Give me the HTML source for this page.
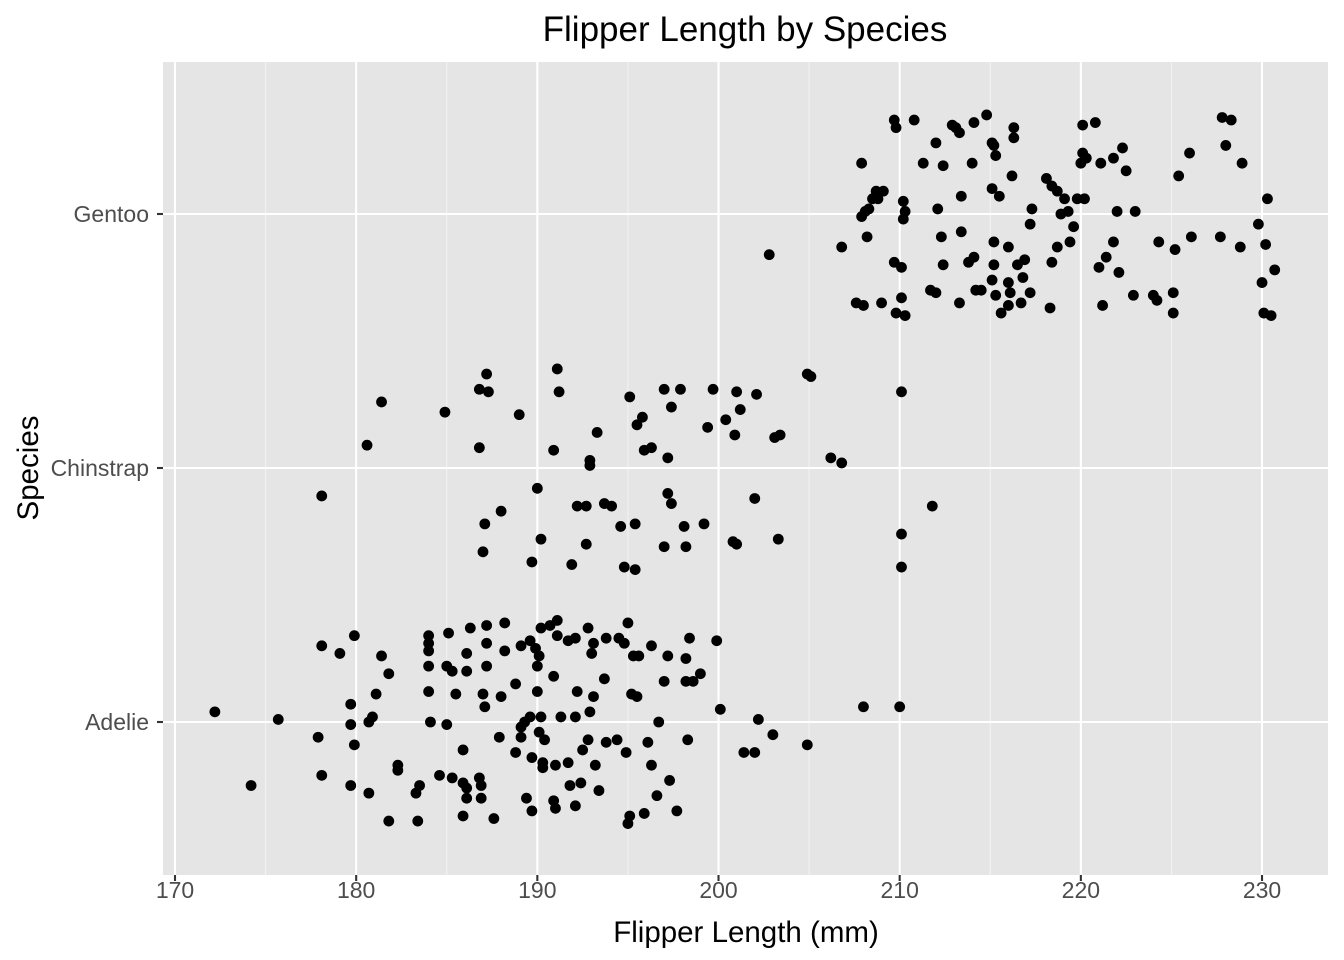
<!DOCTYPE html>
<html><head><meta charset="utf-8"><style>
body{margin:0;background:#fff;}
svg{display:block;font-family:"Liberation Sans",Arial,sans-serif;}
</style></head><body>
<svg id="chart" width="1344" height="960" viewBox="0 0 1344 960" xmlns="http://www.w3.org/2000/svg"></svg>
<script>
const categories = ["Adelie", "Chinstrap", "Gentoo"];
const xTicks = [170, 180, 190, 200, 210, 220, 230];
const gentooX = [209.7,210.8,209.8,212.9,213.1,214.1,214.8,215.1,215.2,215.3,216.3,216.3,220.1,220.8,227.8,228.3,212.0,213.3,220.1,220.3,220.0,221.1,221.8,222.3,222.5,226.0,228.0,228.9,225.4,207.9,211.3,214.0,212.4,216.2,218.1,218.4,218.7,219.1,219.8,220.2,219.3,218.9,208.7,209.1,208.8,208.5,208.3,208.1,207.9,210.2,210.3,210.2,213.4,215.1,215.5,212.1,217.3,222.0,223.0,230.3,229.8,226.1,227.7,228.8,230.2,208.2,206.8,213.4,212.3,215.2,217.2,219.6,219.4,218.7,221.8,224.3,225.2,202.8,216.0,216.5,209.7,210.1,212.4,213.8,214.1,215.2,216.9,218.4,221.4,221.0,222.1,230.0,230.7,214.2,215.1,216.8,216.0,210.1,211.7,212.0,213.3,214.5,215.3,216.1,217.2,222.9,224.0,224.2,225.1,207.6,208.0,209.0,209.8,210.3,215.6,216.0,216.7,218.3,221.2,225.1,230.1,230.5];
const gentooJitter = [0.37,0.37,0.34,0.35,0.34,0.36,0.39,0.28,0.27,0.23,0.34,0.30,0.35,0.36,0.38,0.37,0.28,0.32,0.24,0.22,0.20,0.20,0.22,0.26,0.17,0.24,0.27,0.20,0.15,0.20,0.20,0.20,0.19,0.15,0.14,0.11,0.09,0.06,0.06,0.06,0.01,0,0.09,0.09,0.06,0.06,0.02,0.01,-0.01,0.05,0.01,-0.02,0.07,0.10,0.07,0.02,0.02,0.01,0.01,0.06,-0.04,-0.09,-0.09,-0.13,-0.12,-0.09,-0.13,-0.07,-0.09,-0.11,-0.04,-0.05,-0.11,-0.13,-0.11,-0.11,-0.14,-0.16,-0.13,-0.20,-0.19,-0.21,-0.20,-0.19,-0.17,-0.20,-0.18,-0.19,-0.17,-0.21,-0.23,-0.27,-0.22,-0.30,-0.26,-0.25,-0.27,-0.33,-0.30,-0.31,-0.35,-0.30,-0.32,-0.31,-0.31,-0.32,-0.32,-0.34,-0.31,-0.35,-0.36,-0.35,-0.39,-0.40,-0.39,-0.36,-0.35,-0.37,-0.36,-0.39,-0.39,-0.40];
const chinstrapX = [191.1,187.2,186.8,187.3,191.2,197.0,197.9,199.7,201.0,202.1,204.9,205.1,210.1,181.4,184.9,189.0,195.1,195.8,197.4,200.4,201.2,199.4,200.9,203.1,203.4,193.3,195.5,180.6,186.8,190.9,192.9,192.9,196.3,195.9,197.2,206.2,206.8,178.1,190.0,192.2,192.7,193.7,194.1,197.2,197.4,202.0,211.8,188.0,187.1,194.6,195.4,198.1,199.2,190.2,192.7,200.8,201.0,203.3,210.1,187.0,189.7,191.9,194.8,195.4,197.0,198.2,210.1];
const chinstrapJitter = [0.39,0.37,0.31,0.30,0.30,0.31,0.31,0.31,0.30,0.29,0.37,0.36,0.30,0.26,0.22,0.21,0.28,0.20,0.24,0.19,0.23,0.16,0.13,0.12,0.13,0.14,0.17,0.09,0.08,0.07,0.03,0.01,0.08,0.07,0.04,0.04,0.02,-0.11,-0.08,-0.15,-0.15,-0.14,-0.15,-0.10,-0.14,-0.12,-0.15,-0.17,-0.22,-0.23,-0.22,-0.23,-0.22,-0.28,-0.30,-0.29,-0.30,-0.28,-0.26,-0.33,-0.37,-0.38,-0.39,-0.40,-0.31,-0.31,-0.39];
const adelieX = [191.1,190.7,190.2,192.8,195.0,188.2,187.2,186.3,185.1,184.0,184.0,179.9,178.1,179.1,181.4,181.8,184.0,184.0,185.0,186.1,187.2,187.2,186.1,185.3,188.2,189.1,189.9,190.1,190.0,191.1,189.6,192.1,191.7,193.0,193.1,193.8,194.5,194.8,195.6,195.3,196.3,197.2,198.2,198.4,199.9,199.0,198.6,198.2,197.0,193.7,192.2,195.2,195.5,193.1,190.9,190.0,188.8,188.0,187.0,187.1,185.5,184.0,181.1,179.7,172.2,175.7,179.7,180.7,180.9,184.1,185.0,189.1,189.3,189.6,190.2,191.3,192.1,192.9,196.7,200.1,202.2,208.0,210.0,187.9,189.1,190.1,190.4,192.8,193.8,194.4,196.1,198.3,177.9,179.9,185.9,188.8,189.7,190.3,190.3,191.0,192.5,191.7,194.9,196.3,193.2,201.4,202.0,203.0,204.9,182.3,182.3,184.6,185.3,185.9,186.8,186.9,186.9,186.1,186.1,183.5,183.3,180.7,179.7,178.1,174.2,189.4,191.8,192.4,193.4,190.9,191.0,189.7,192.1,195.1,195.0,195.9,196.6,197.3,197.7,187.6,185.9,183.4,181.8];
const adelieJitter = [0.40,0.38,0.37,0.37,0.39,0.39,0.38,0.37,0.35,0.34,0.31,0.34,0.30,0.27,0.26,0.19,0.28,0.22,0.22,0.27,0.31,0.22,0.20,0.20,0.28,0.30,0.29,0.26,0.22,0.34,0.32,0.33,0.32,0.27,0.31,0.33,0.33,0.31,0.26,0.26,0.30,0.26,0.25,0.33,0.32,0.19,0.16,0.16,0.16,0.17,0.12,0.11,0.10,0.10,0.18,0.12,0.15,0.10,0.11,0.06,0.11,0.12,0.11,0.07,0.04,0.01,-0.01,0,0.02,0,-0.01,-0.02,0,0.02,0.02,0.02,0.02,0.04,0,0.05,0.01,0.06,0.06,-0.06,-0.06,-0.04,-0.07,-0.07,-0.08,-0.07,-0.08,-0.07,-0.06,-0.09,-0.11,-0.12,-0.14,-0.16,-0.18,-0.17,-0.11,-0.16,-0.12,-0.17,-0.17,-0.12,-0.12,-0.05,-0.09,-0.17,-0.19,-0.21,-0.22,-0.24,-0.22,-0.25,-0.30,-0.30,-0.26,-0.25,-0.28,-0.28,-0.25,-0.21,-0.25,-0.30,-0.25,-0.24,-0.27,-0.31,-0.34,-0.35,-0.33,-0.37,-0.40,-0.36,-0.29,-0.23,-0.35,-0.38,-0.37,-0.39,-0.39];

const NS = "http://www.w3.org/2000/svg";
const svg = document.getElementById("chart");
const P = {left:163, right:1328, top:62, bottom:875};
const xScale = v => 175 + (v - 170) * 18.117;
const yScale = v => 722 - (v - 1) * 254;
function mk(tag, attrs, parent){
  const e = document.createElementNS(NS, tag);
  for (const k in attrs) e.setAttribute(k, attrs[k]);
  (parent || svg).appendChild(e);
  return e;
}
const panel = mk("rect", {x:P.left, y:P.top, width:P.right-P.left, height:P.bottom-P.top, fill:"#E5E5E5"});


for (let i = 0; i < xTicks.length - 1; i++) {
  const x = xScale((xTicks[i] + xTicks[i+1]) / 2);
  const g = mk("line", {x1:x, x2:x, y1:P.top, y2:P.bottom, stroke:"#F2F2F2", "stroke-width":1.1});
  
  
}
xTicks.forEach(t => {
  const x = xScale(t);
  const g = mk("line", {x1:x, x2:x, y1:P.top, y2:P.bottom, stroke:"#fff", "stroke-width":2.1});
  
  
  const tk = mk("line", {x1:x, x2:x, y1:P.bottom, y2:P.bottom+6, stroke:"#333", "stroke-width":2.1});
  
  
  const tl = mk("text", {x:x, y:898, "text-anchor":"middle", "font-size":23, fill:"#4D4D4D"});
  tl.textContent = t;
  
  
});
categories.forEach((c, i) => {
  const y = yScale(i + 1);
  const g = mk("line", {x1:P.left, x2:P.right, y1:y, y2:y, stroke:"#fff", "stroke-width":2.1});
  
  
  const tk = mk("line", {x1:P.left-6, x2:P.left, y1:y, y2:y, stroke:"#333", "stroke-width":2.1});
  
  
  const tl = mk("text", {x:149, y:y+8, "text-anchor":"end", "font-size":23, fill:"#4D4D4D"});
  tl.textContent = c;
  
  
});
function drawSeries(xs, js, idx, name){
  const g = mk("g", {});
  
  
  xs.forEach((v, i) => {
    const c = mk("circle", {cx:xScale(v), cy:yScale(idx + js[i]), r:5.4, fill:"#000"}, g);
    
    
  });
}
drawSeries(adelieX, adelieJitter, 1, "adelie");
drawSeries(chinstrapX, chinstrapJitter, 2, "chinstrap");
drawSeries(gentooX, gentooJitter, 3, "gentoo");
const title = mk("text", {x:745, y:41, "text-anchor":"middle", "font-size":35, fill:"#000"});
title.textContent = "Flipper Length by Species";


const xt = mk("text", {x:746, y:942, "text-anchor":"middle", "font-size":29.5, fill:"#000"});
xt.textContent = "Flipper Length (mm)";


const yt = mk("text", {x:0, y:0, "text-anchor":"middle", "font-size":29.5, fill:"#000", transform:"translate(38,468) rotate(-90)"});
yt.textContent = "Species";


</script>
</body></html>
